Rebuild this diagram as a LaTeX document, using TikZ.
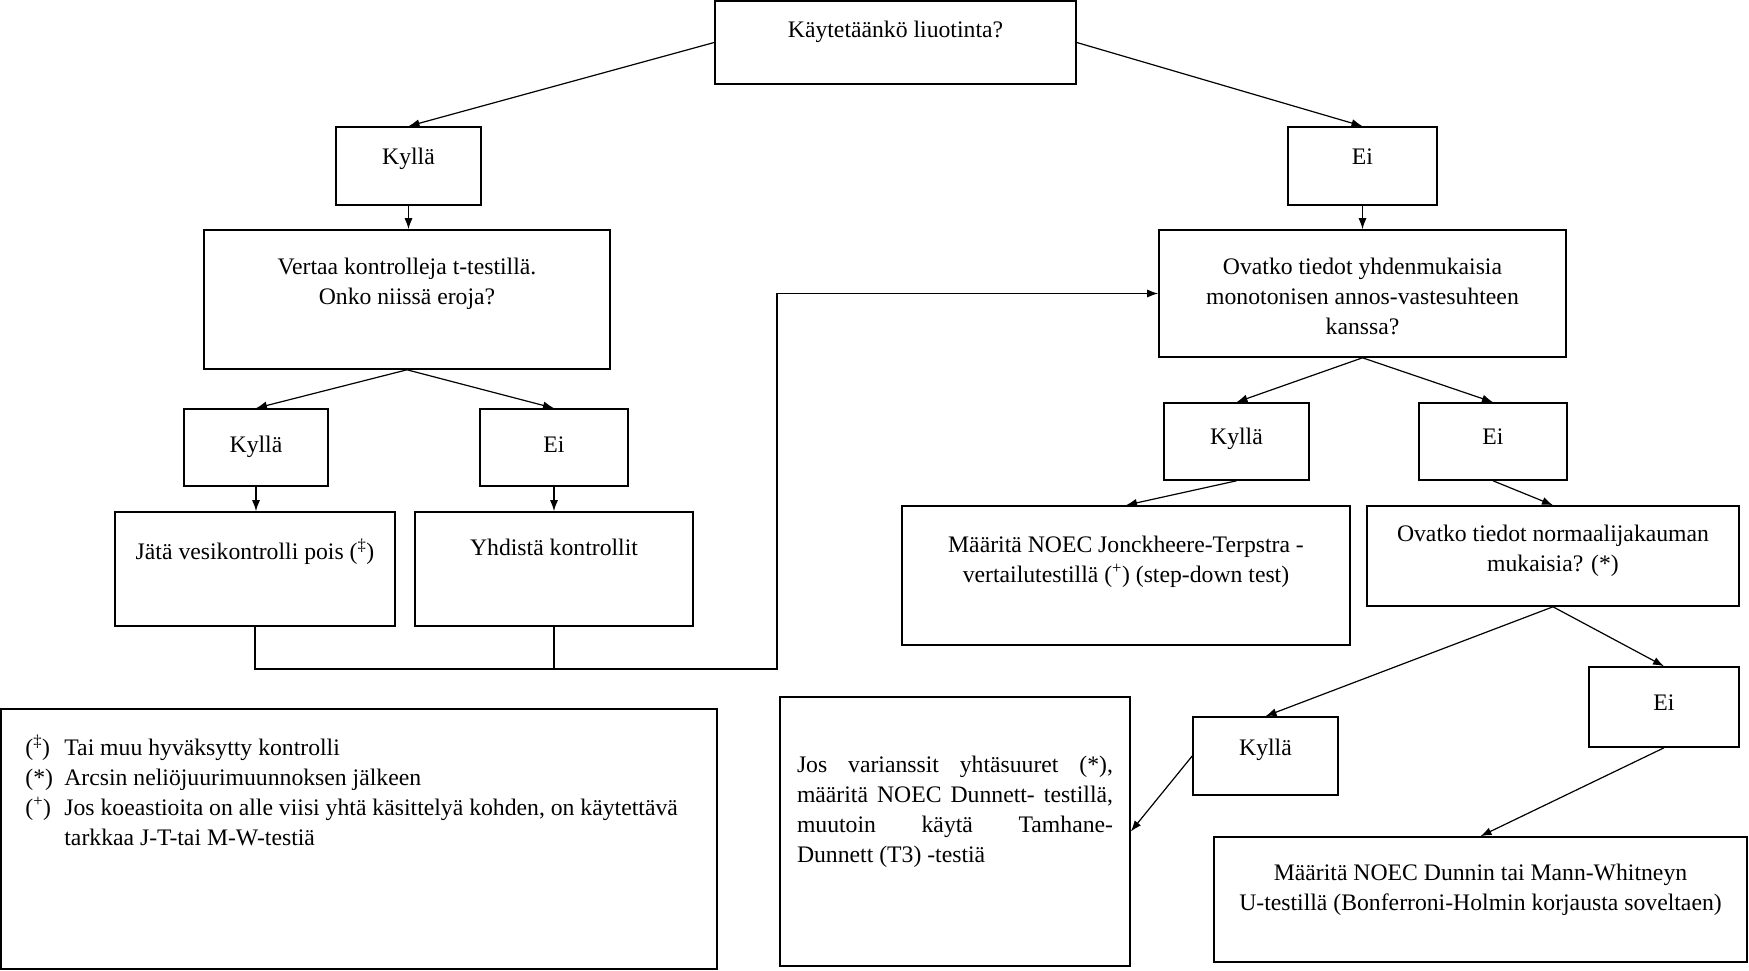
\documentclass[tikz,border=0pt]{standalone}
\usepackage{fontspec}
\setmainfont{Liberation Serif}
\usetikzlibrary{arrows.meta}

\begin{document}
\begin{tikzpicture}[
    x=1pt, y=-1pt,
    box/.style={rectangle, draw=black, line width=1.6pt, inner sep=0pt},
    wh/.style 2 args={minimum width=#1pt, minimum height=#2pt},
    txt/.style={anchor=north, align=center, inner sep=0pt,
                font=\fontsize{23.7}{30}\selectfont},
    line/.style={-{Latex[length=11pt, width=8pt]}, line width=1.2pt},
    feed/.style={line width=1.2pt},
  ]
  \useasboundingbox (0,0) rectangle (1749,971);

  \node[box, wh={361}{83}, label={[txt, yshift=-21pt]north:{Käytetäänkö liuotinta?}}] (kaytto) at (895.5,42.5) {};

  \node[box, wh={145}{78}, label={[txt, yshift=-22pt]north:{Kyllä}}] (kylla1) at (408.5,166) {};
  \node[box, wh={149}{78}, label={[txt, yshift=-22pt]north:{Ei}}] (ei1) at (1362.5,166) {};

  \node[box, wh={406}{139}, label={[txt, yshift=-29pt]north:{Vertaa kontrolleja t-testillä.\\Onko niissä eroja?}}] (vertaa) at (407,299.5) {};
  \node[box, wh={407}{127}, label={[txt, yshift=-29pt]north:{Ovatko tiedot yhdenmukaisia\\monotonisen annos-vastesuhteen\\kanssa?}}] (ovatko) at (1362.5,293.5) {};

  \node[box, wh={144}{77}, label={[txt, yshift=-28pt]north:{Kyllä}}] (kylla2) at (256,447.5) {};
  \node[box, wh={148}{77}, label={[txt, yshift=-28pt]north:{Ei}}] (ei2) at (554,447.5) {};
  \node[box, wh={280}{114}, label={[txt, yshift=-28pt]north:{Jätä vesikontrolli pois (\textsuperscript{‡})}}] (jata) at (255,569) {};
  \node[box, wh={278}{114}, label={[txt, yshift=-28pt]north:{Yhdistä kontrollit}}] (yhdista) at (554,569) {};

  \node[box, wh={145}{77}, label={[txt, yshift=-26pt]north:{Kyllä}}] (kylla3) at (1236.5,441.5) {};
  \node[box, wh={148}{77}, label={[txt, yshift=-26pt]north:{Ei}}] (ei3) at (1493,441.5) {};
  \node[box, wh={448}{139}, label={[txt, yshift=-31pt]north:{Määritä NOEC Jonckheere-Terpstra -\\vertailutestillä (\textsuperscript{+}) (step-down test)}}] (jt) at (1126,575.5) {};
  \node[box, wh={372}{100}, label={[txt, yshift=-20pt]north:{Ovatko tiedot normaalijakauman\\mukaisia? (*)}}] (normaali) at (1553,556) {};

  \node[box, wh={150}{80}, label={[txt, yshift=-28pt]north:{Ei}}] (ei4) at (1664,707) {};
  \node[box, wh={145}{78}, label={[txt, yshift=-23pt]north:{Kyllä}}] (kylla4) at (1265.5,756) {};
  \node[box, wh={350}{269}, label={[txt, yshift=-60pt, text width=316pt, align=justify]north:{\hyphenpenalty=10000 Jos varianssit yhtäsuuret (*),\linebreak määritä NOEC Dunnett- testillä,\linebreak muutoin käytä Tamhane-\linebreak Dunnett (T3) -testiä}}] (varianssit) at (955,831.5) {};
  \node[box, wh={533}{125}, label={[txt, yshift=-28pt]north:{Määritä NOEC Dunnin tai Mann-Whitneyn\\U-testillä (Bonferroni-Holmin korjausta soveltaen)}}] (dunn) at (1480.5,899.5) {};

  \node[box, wh={716}{260}, label={[txt, anchor=north west, align=left, xshift=25pt, yshift=-26pt]north west:{%
      \begin{tabular}{@{}p{39pt}@{}l@{}}
        (\textsuperscript{‡}) & Tai muu hyväksytty kontrolli\\
        (*) & Arcsin neliöjuurimuunnoksen jälkeen\\
        (\textsuperscript{+}) & Jos koeastioita on alle viisi yhtä käsittelyä kohden, on käytettävä\\
            & tarkkaa J-T-tai M-W-testiä
      \end{tabular}}}] (selitteet) at (359,839) {};

  % liuotin
  \draw[line] (kaytto.west) -- (kylla1.north);
  \draw[line] (kaytto.east) -- (ei1.north);
  \draw[line] (kylla1.south) -- (kylla1.south |- vertaa.north);
  \draw[line] (ei1.south) -- (ei1.south |- ovatko.north);

  % kontrollit
  \draw[line] (vertaa.south) -- (kylla2.north);
  \draw[line] (vertaa.south) -- (ei2.north);
  \draw[line] (kylla2.south) -- (kylla2.south |- jata.north);
  \draw[line] (ei2.south) -- (ei2.south |- yhdista.north);
  \coordinate (yhdys) at (777,669);
  \draw[feed] (yhdista.south) -- (yhdista.south |- yhdys);
  \draw[line] (jata.south) |- (yhdys) |- (ovatko.west);

  % annos-vaste
  \draw[line] (ovatko.south) -- (kylla3.north);
  \draw[line] (ovatko.south) -- (ei3.north);
  \draw[line] (kylla3.south) -- (jt.north);
  \draw[line] (ei3.south) -- (normaali.north);
  \draw[line] (normaali.south) -- (kylla4.north);
  \draw[line] (normaali.south) -- (ei4.north);
  \draw[line] (kylla4.west) -- (varianssit.east);
  \draw[line] (ei4.south) -- (dunn.north);

\end{tikzpicture}
\end{document}
